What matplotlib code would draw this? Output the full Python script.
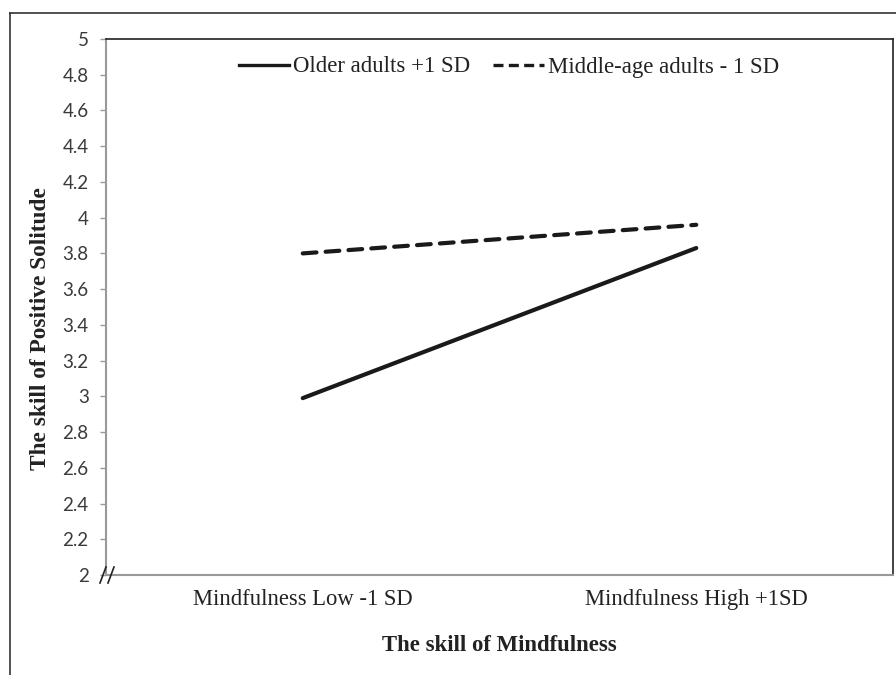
import matplotlib
matplotlib.use("Agg")
import matplotlib.pyplot as plt
from matplotlib.lines import Line2D

categories = ["Mindfulness Low -1 SD", "Mindfulness High +1SD"]
older_adults = [2.99, 3.83]
middle_age = [3.80, 3.96]
series_labels = ["Older adults +1 SD", "Middle-age adults - 1 SD"]
yticks = [2, 2.2, 2.4, 2.6, 2.8, 3, 3.2, 3.4, 3.6, 3.8, 4, 4.2, 4.4, 4.6, 4.8, 5]
ytick_labels = ["2", "2.2", "2.4", "2.6", "2.8", "3", "3.2", "3.4", "3.6", "3.8",
                "4", "4.2", "4.4", "4.6", "4.8", "5"]

W, H = 896, 675
fig = plt.figure(figsize=(W / 100, H / 100), dpi=100)
fig.patch.set_facecolor("white")

# outer frame (cut off right and bottom)
fig.add_artist(Line2D([10 / W, 10 / W], [0, 1 - 13 / H], color="#333333", lw=1.2,
                      transform=fig.transFigure))
fig.add_artist(Line2D([10 / W, 1], [1 - 13 / H, 1 - 13 / H], color="#333333", lw=1.2,
                      transform=fig.transFigure))

ax = fig.add_axes([106 / W, 1 - 575 / H, (893 - 106) / W, (575 - 39) / H])
x = list(range(len(categories)))
ax.plot(x, older_adults, color="#1a1a1a", lw=3.0, solid_capstyle="round")
ax.plot(x, middle_age, color="#1a1a1a", lw=3.0, dashes=(3.3, 2.2),
        dash_capstyle="round")

ax.set_xlim(-0.5, 1.5)
ax.set_ylim(2, 5)
ax.set_yticks(yticks)
ax.set_yticklabels(ytick_labels, fontfamily="Lato", fontsize=13.5, color="#3a3a3a")
ax.set_xticks(x)
ax.set_xticklabels(categories, fontfamily="Liberation Serif", fontsize=16.3, color="#222222")
ax.tick_params(axis="x", length=0, pad=10)
ax.tick_params(axis="y", length=4.5, width=1, color="#999999", pad=8, direction="out")

for s in ("left", "bottom"):
    ax.spines[s].set_color("#999999")
    ax.spines[s].set_linewidth(1.5)
for s in ("top", "right"):
    ax.spines[s].set_color("#222222")
    ax.spines[s].set_linewidth(1.2)

ax.set_ylabel("The skill of Positive Solitude", fontfamily="Liberation Serif",
              fontsize=16.8, fontweight="bold", color="#222222")
ax.yaxis.set_label_coords((51 - 106) / 787, (575 - 329) / 536)
ax.set_xlabel("The skill of Mindfulness", fontfamily="Liberation Serif",
              fontsize=16.4, fontweight="bold", color="#222222", labelpad=18)

# axis break marks
for xo in (103, 111):
    fig.add_artist(Line2D([(xo - 3) / W, (xo + 3) / W],
                          [1 - 583 / H, 1 - 567 / H], color="#222222", lw=1.2,
                          transform=fig.transFigure))

h1 = Line2D([], [], color="#1a1a1a", lw=2.4)
h2 = Line2D([], [], color="#1a1a1a", lw=2.4, dashes=(3.0, 1.6))
leg = ax.legend(handles=[h1, h2], labels=series_labels, loc="center",
                bbox_to_anchor=(509 / W, 1 - 67 / H),
                bbox_transform=fig.transFigure, ncol=2, frameon=False,
                prop={"family": "Liberation Serif", "size": 16.4},
                handlelength=2.2, handletextpad=0.2, columnspacing=1.0)
for t in leg.get_texts():
    t.set_color("#222222")

fig.savefig("out.png", dpi=100, facecolor="white")
